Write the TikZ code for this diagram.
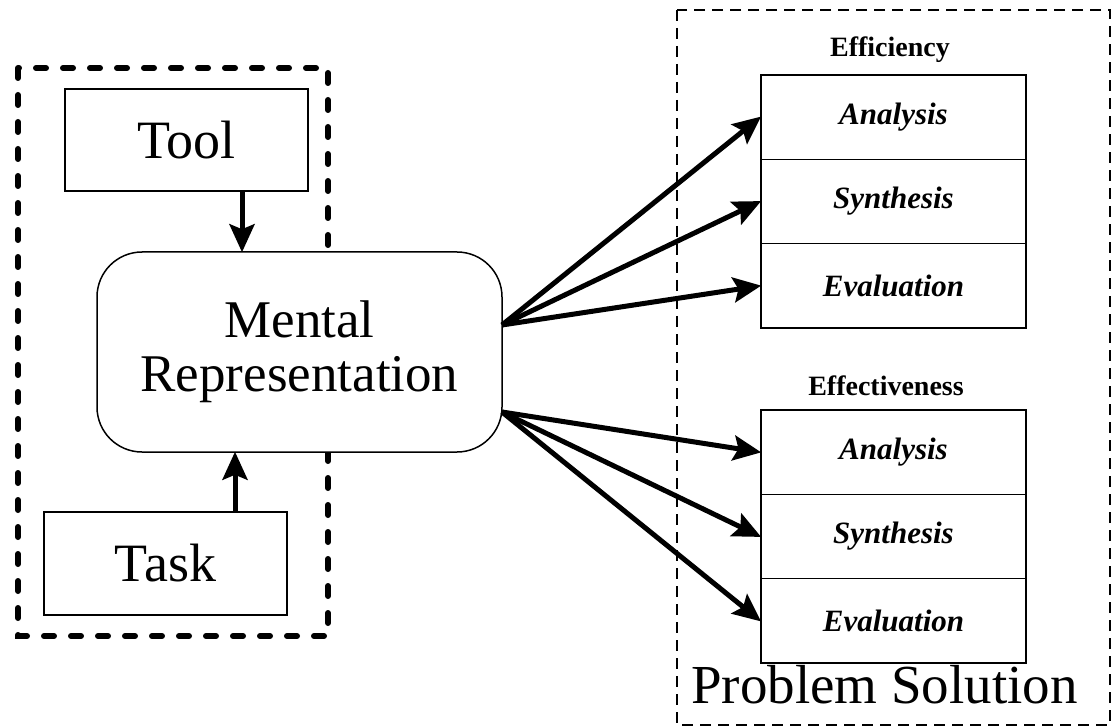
\documentclass[tikz,border=0pt]{standalone}
\usepackage{fontspec}
\setmainfont{Liberation Serif}
\usetikzlibrary{arrows.meta}
\begin{document}
\begin{tikzpicture}[x=1pt,y=-1pt,
  box/.style={draw, fill=white, line width=1.5pt, rectangle, inner sep=0pt, font=\fontsize{54}{60}\selectfont},
  cell/.style={draw, fill=white, line width=1.5pt, rectangle, inner sep=0pt, minimum width=265pt, minimum height=84.3pt, font=\fontsize{31}{36}\selectfont\bfseries\itshape},
  ttl/.style={anchor=base, inner sep=0pt, font=\fontsize{28}{34}\selectfont\bfseries},
  arr/.style={line width=5pt, -{Stealth[length=28pt,width=25pt,inset=5pt]}, shorten >=-1pt}
]
\useasboundingbox (0,0) rectangle (1111,727);

% dashed enclosures
\draw[line width=6pt, line cap=round, dash pattern=on 10pt off 17pt] (18,68) rectangle (328,636);
\draw[line width=1.5pt, dash pattern=on 11pt off 7pt] (677,10) rectangle (1110,725);

% left nodes
\node[box, minimum width=243pt, minimum height=102pt] (tool) at (186.5,140) {Tool};
\node[box, minimum width=243pt, minimum height=103pt] (task) at (165.5,563.5) {Task};
\node[box, rounded corners=45pt, minimum width=405pt, minimum height=200pt, align=center,
      font=\fontsize{53}{54}\selectfont] (mr) at (299.5,352) {Mental\\Representation};

\coordinate (cx1) at (242,0);
\coordinate (cx2) at (235,0);
\draw[arr] (tool.south -| cx1) -- (mr.north -| cx1);
\draw[arr] (task.north -| cx2) -- (mr.south -| cx2);

% efficiency table
\node[ttl] (eftitle) at (890,57) {Efficiency};
\node[cell] (e1) at (893.5,117.2) {Analysis};
\node[cell] (e2) at (893.5,201.5) {Synthesis};
\node[cell] (e3) at (893.5,285.8) {Evaluation};

% effectiveness table
\node[ttl] (fftitle) at (886,395) {Effectiveness};
\node[cell] (f1) at (893.5,452.2) {Analysis};
\node[cell] (f2) at (893.5,536.5) {Synthesis};
\node[cell] (f3) at (893.5,620.8) {Evaluation};

% connectors
\coordinate (s1) at (502,325);
\coordinate (s2) at (502,412);
\draw[arr] (s1) -- (e1.west);
\draw[arr] (s1) -- (e2.west);
\draw[arr] (s1) -- (e3.west);
\draw[arr] (s2) -- (f1.west);
\draw[arr] (s2) -- (f2.west);
\draw[arr] (s2) -- (f3.west);

\node[anchor=base west, inner sep=0pt, font=\fontsize{55}{60}\selectfont] (ps) at (691,703) {Problem Solution};
\end{tikzpicture}
\end{document}
